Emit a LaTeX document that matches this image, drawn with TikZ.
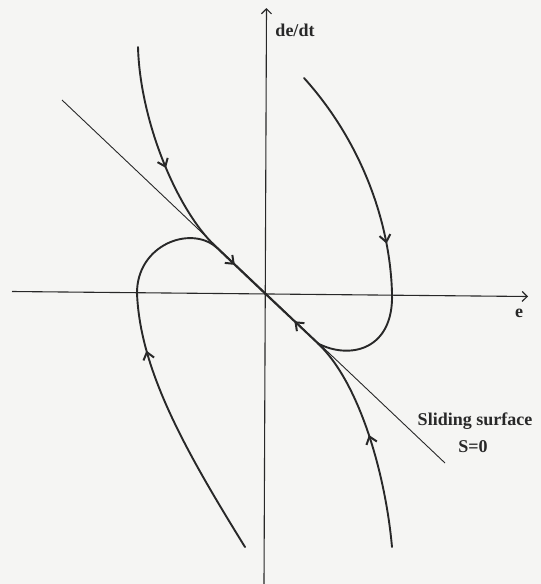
\documentclass[tikz,border=0pt]{standalone}
\usepackage{fontspec}
\setmainfont{Liberation Serif}
\usetikzlibrary{arrows.meta,decorations.markings}
\definecolor{ink}{RGB}{40,40,40}
\definecolor{paper}{RGB}{245,245,243}
\tikzset{
  curve/.style={line width=1.9pt, draw=ink, line cap=round},
  axisline/.style={line width=1.1pt, draw=ink, -{Straight Barb[length=5pt,width=10pt,line width=1.2pt]}},
  surf/.style={line width=0.9pt, draw=ink},
  midarrow/.style={postaction={decorate}, decoration={markings,
      mark=at position #1 with {\arrow[ink]{Straight Barb[length=7pt,width=11pt,line width=2pt]}}}},
  lbl/.style={font=\bfseries\fontsize{18}{20}\selectfont, text=ink, inner sep=0pt}
}
\begin{document}
\begin{tikzpicture}[x=1pt,y=-1pt]
  \fill[paper] (0,0) rectangle (541,584);
  \useasboundingbox (0,0) rectangle (541,584);
  % key points
  \coordinate (O) at (265.5,294);
  \coordinate (yb) at (264,584);
  \coordinate (yt) at (266.5,8);
  \coordinate (xl) at (12,291.5);
  \coordinate (xr) at (528,296.5);
  \coordinate (s1) at (62,100);
  \coordinate (s2) at (445,463);
  \coordinate (MA) at (216,247);
  \coordinate (MC) at (318,343.5);
  \coordinate (A0) at (138,47);
  \coordinate (B0) at (245,547);
  \coordinate (BL) at (137,293);
  \coordinate (C0) at (304,78);
  \coordinate (CR) at (392,293);
  \coordinate (D0) at (392,547);
  % axes
  \draw[axisline] (yb) -- (yt);
  \draw[axisline] (xl) -- (xr);
  % sliding surface
  \draw[surf] (s1) -- (s2);
  % trajectories
  \draw[curve, midarrow=0.57] (A0) .. controls (140,120) and (176,209) .. (MA);
  \draw[curve, midarrow=0.38] (MA) -- (O);
  \draw[curve, midarrow=0.79] (B0) .. controls (185,450) and (140,370) .. (BL);
  \draw[curve] (BL) .. controls (137,245) and (190,225) .. (MA);
  \draw[curve, midarrow=0.79] (C0) .. controls (360,140) and (390,220) .. (CR);
  \draw[curve] (CR) .. controls (394,350) and (350,360) .. (MC);
  \draw[curve, midarrow=0.45] (MC) -- (O);
  \draw[curve, midarrow=0.52] (D0) .. controls (385,470) and (358,381) .. (MC);
  % labels
  \node[lbl] (dedt) at (295,30) {de/dt};
  \node[lbl] (elbl) at (519,313) {e};
  \node[lbl] (ss) at (475,421) {Sliding surface};
  \node[lbl] (s0) at (473,447) {S=0};
\end{tikzpicture}
\end{document}
